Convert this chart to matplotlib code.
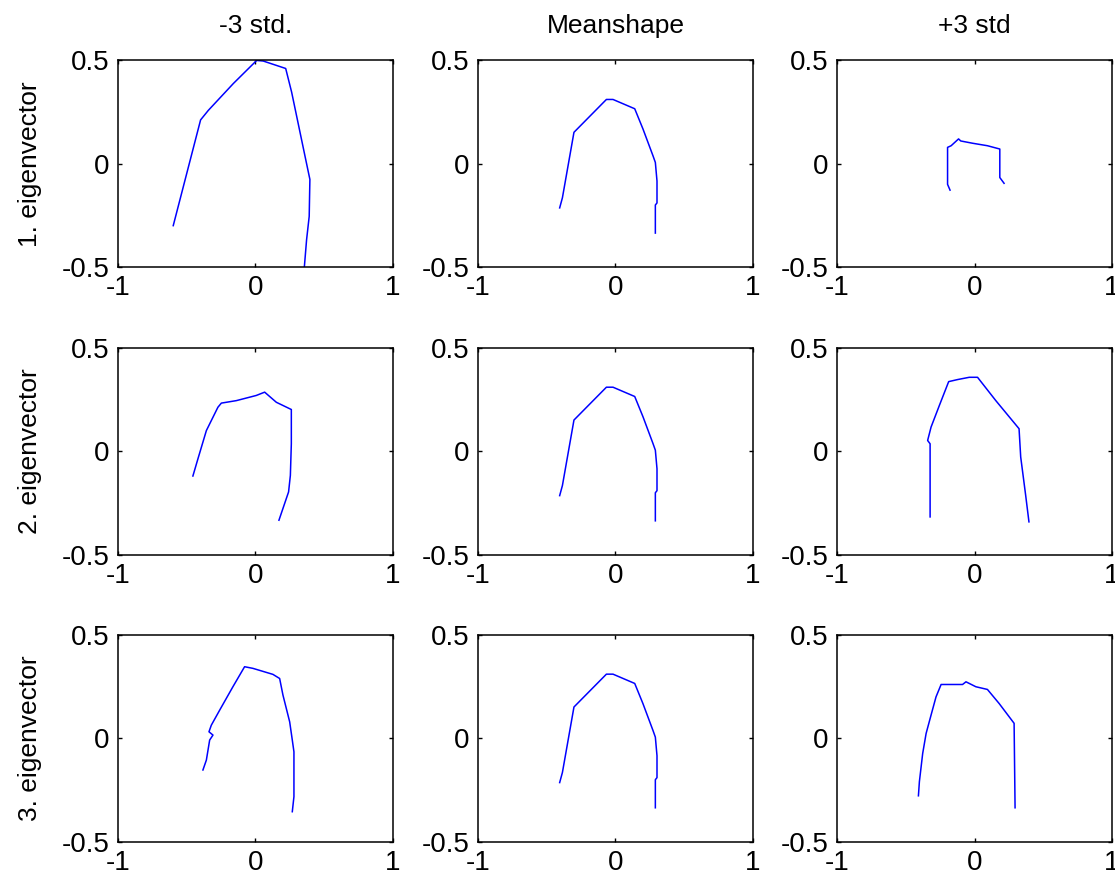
import numpy as np
import matplotlib.pyplot as plt

plt.rcParams['font.family'] = ['Liberation Sans', 'DejaVu Sans']

# column / row titles
col_titles = ['-3 std.', 'Meanshape', '+3 std']
row_labels = ['1. eigenvector', '2. eigenvector', '3. eigenvector']

# mean shape (same in the whole middle column)
mean_x = [-0.406, -0.386, -0.302, -0.066, -0.018, 0.14, 0.2, 0.273, 0.29, 0.302, 0.302, 0.29, 0.29]
mean_y = [-0.214, -0.165, 0.152, 0.311, 0.311, 0.266, 0.168, 0.038, 0.006, -0.084, -0.19, -0.2, -0.336]

# 1. eigenvector, -3 std / +3 std
ev1_neg_x = [-0.598, -0.399, -0.343, -0.161, 0.009, 0.057, 0.22, 0.263, 0.36, 0.396, 0.391, 0.372, 0.352]
ev1_neg_y = [-0.30, 0.212, 0.258, 0.388, 0.50, 0.497, 0.461, 0.347, 0.038, -0.076, -0.255, -0.368, -0.53]
ev1_pos_x = [-0.178, -0.196, -0.196, -0.17, -0.116, -0.1, -0.014, 0.094, 0.184, 0.184, 0.215]
ev1_pos_y = [-0.128, -0.1, 0.079, 0.087, 0.12, 0.11, 0.099, 0.087, 0.071, -0.067, -0.095]

# 2. eigenvector
ev2_neg_x = [-0.455, -0.418, -0.357, -0.273, -0.248, -0.139, 0.006, 0.067, 0.152, 0.261, 0.261, 0.254, 0.241, 0.171]
ev2_neg_y = [-0.119, -0.035, 0.101, 0.214, 0.234, 0.246, 0.271, 0.287, 0.238, 0.203, 0.037, -0.116, -0.196, -0.333]
ev2_pos_x = [-0.323, -0.323, -0.341, -0.316, -0.256, -0.188, -0.123, -0.038, 0.022, 0.155, 0.324, 0.336, 0.372, 0.396]
ev2_pos_y = [-0.317, 0.037, 0.053, 0.118, 0.222, 0.338, 0.348, 0.359, 0.359, 0.246, 0.11, -0.027, -0.212, -0.341]

# 3. eigenvector
ev3_neg_x = [-0.382, -0.357, -0.333, -0.309, -0.338, -0.321, -0.26, -0.164, -0.079, -0.018, 0.127, 0.176, 0.2, 0.249, 0.268, 0.28, 0.28, 0.268]
ev3_neg_y = [-0.153, -0.105, -0.008, 0.016, 0.032, 0.064, 0.137, 0.25, 0.347, 0.339, 0.31, 0.29, 0.21, 0.08, -0.008, -0.065, -0.282, -0.355]
ev3_pos_x = [-0.408, -0.401, -0.377, -0.352, -0.316, -0.28, -0.243, -0.087, -0.062, 0.01, 0.094, 0.179, 0.288, 0.295]
ev3_pos_y = [-0.278, -0.21, -0.073, 0.024, 0.113, 0.201, 0.261, 0.261, 0.274, 0.25, 0.237, 0.169, 0.073, -0.336]

shapes = [
    [(ev1_neg_x, ev1_neg_y), (mean_x, mean_y), (ev1_pos_x, ev1_pos_y)],
    [(ev2_neg_x, ev2_neg_y), (mean_x, mean_y), (ev2_pos_x, ev2_pos_y)],
    [(ev3_neg_x, ev3_neg_y), (mean_x, mean_y), (ev3_pos_x, ev3_pos_y)],
]

fig = plt.figure(figsize=(11.15, 8.77), dpi=100)

lefts = [0.1058, 0.4287, 0.7507]
bottoms = [0.6956, 0.3675, 0.0403]
w, h = 0.2466, 0.2355

for r in range(3):
    for c in range(3):
        ax = fig.add_axes([lefts[c], bottoms[r], w, h])
        xs, ys = shapes[r][c]
        ax.plot(xs, ys, color='#0000ff', lw=1.1)
        ax.set_xlim(-1, 1)
        ax.set_ylim(-0.5, 0.5)
        ax.set_xticks([-1, 0, 1])
        ax.set_yticks([-0.5, 0, 0.5])
        ax.set_xticklabels(['-1', '0', '1'])
        ax.set_yticklabels(['-0.5', '0', '0.5'])
        ax.tick_params(direction='in', length=3, width=1, labelsize=20,
                       top=True, right=True, pad=6)
        for s in ax.spines.values():
            s.set_linewidth(1.1)
        if r == 0:
            ax.set_title(col_titles[c], fontsize=19, pad=20)
        if c == 0:
            ax.set_ylabel(row_labels[r], fontsize=19, labelpad=14)

plt.savefig('out.png', dpi=100)
